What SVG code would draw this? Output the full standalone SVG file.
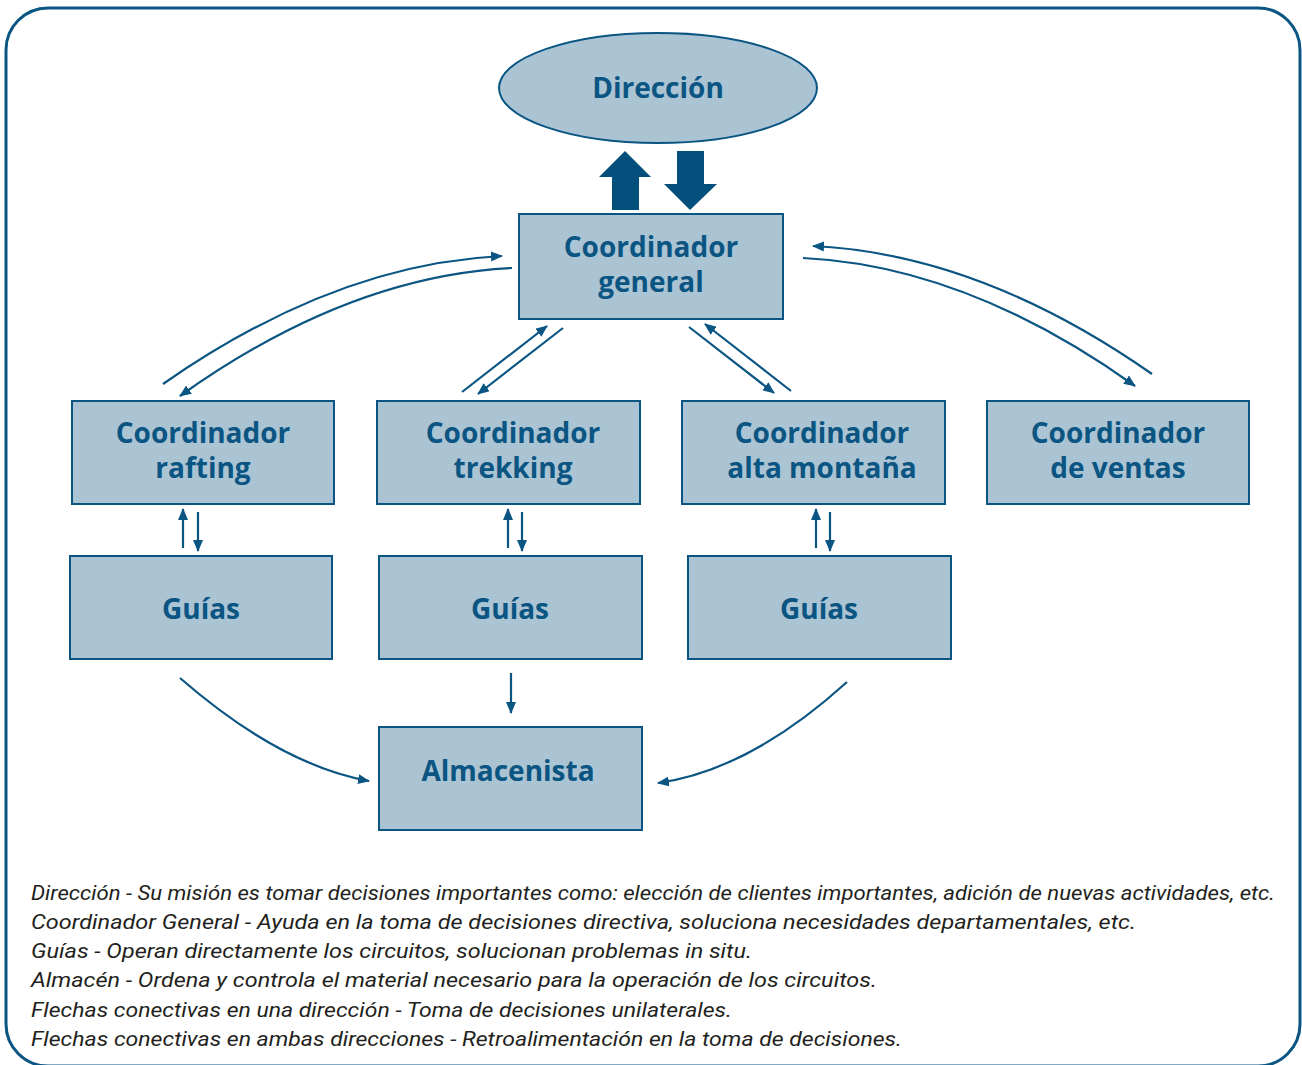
<svg xmlns="http://www.w3.org/2000/svg" width="1302" height="1065" viewBox="0 0 1302 1065">
<style>
.box{fill:#abc4d4;stroke:#0b5583;stroke-width:2}
.lbl{font-family:"Open Sans","Noto Sans",sans-serif;font-weight:bold;font-size:28px;fill:#0b5583;text-anchor:middle}
.con{fill:none;stroke:#0b5583;stroke-width:2.2}
.note{font-family:Roboto,"Liberation Sans",sans-serif;font-style:italic;font-size:21px;fill:#231f20}
</style>
<defs>
<marker id="ah" viewBox="0 0 12 10" refX="11" refY="5" markerWidth="12" markerHeight="10" markerUnits="userSpaceOnUse" orient="auto">
<path d="M0,0 L12,5 L0,10 Z" fill="#0b5583"/>
</marker>
</defs>
<rect x="6" y="8" width="1294" height="1058" rx="42" ry="42" fill="none" stroke="#0b5583" stroke-width="3"/>

<g id="direccion">
<ellipse cx="658" cy="88" rx="159" ry="55" class="box"/>
<text x="658" y="98" class="lbl">Dirección</text>
</g>
<g id="coord-general">
<rect x="519" y="214" width="264" height="105" class="box"/>
<text x="651" y="257" class="lbl">Coordinador</text>
<text x="651" y="292" class="lbl">general</text>
</g>
<g id="coord-rafting">
<rect x="72" y="401" width="262" height="103" class="box"/>
<text x="203" y="443" class="lbl">Coordinador</text>
<text x="203" y="478" class="lbl">rafting</text>
</g>
<g id="coord-trekking">
<rect x="377" y="401" width="263" height="103" class="box"/>
<text x="513" y="443" class="lbl">Coordinador</text>
<text x="513" y="478" class="lbl">trekking</text>
</g>
<g id="coord-alta">
<rect x="682" y="401" width="263" height="103" class="box"/>
<text x="822" y="443" class="lbl">Coordinador</text>
<text x="822" y="478" class="lbl">alta montaña</text>
</g>
<g id="coord-ventas">
<rect x="987" y="401" width="262" height="103" class="box"/>
<text x="1118" y="443" class="lbl">Coordinador</text>
<text x="1118" y="478" class="lbl">de ventas</text>
</g>
<g id="guias-1">
<rect x="70" y="556" width="262" height="103" class="box"/>
<text x="201" y="619" class="lbl">Guías</text>
</g>
<g id="guias-2">
<rect x="379" y="556" width="263" height="103" class="box"/>
<text x="510" y="619" class="lbl">Guías</text>
</g>
<g id="guias-3">
<rect x="688" y="556" width="263" height="103" class="box"/>
<text x="819" y="619" class="lbl">Guías</text>
</g>
<g id="almacenista">
<rect x="379" y="727" width="263" height="103" class="box"/>
<text x="508" y="781" class="lbl">Almacenista</text>
</g>

<g id="connectors">
<path d="M612,210 L612,177 L599,177 L625,151 L651,177 L639,177 L639,210 Z" fill="#04507c"/>
<path d="M677,151 L704,151 L704,184 L717,184 L690,210 L664,184 L677,184 Z" fill="#04507c"/>

<path d="M163,384 Q335,264 502,256" class="con" marker-end="url(#ah)"/>
<path d="M512,268 Q348,276 180,396" class="con" marker-end="url(#ah)"/>
<path d="M1152,374 Q980,254 813,246" class="con" marker-end="url(#ah)"/>
<path d="M803,258 Q967,266 1135,386" class="con" marker-end="url(#ah)"/>

<path d="M462,392 L547,326" class="con" marker-end="url(#ah)"/>
<path d="M563,328 L478,394" class="con" marker-end="url(#ah)"/>
<path d="M689,327 L774,393" class="con" marker-end="url(#ah)"/>
<path d="M791,391 L705,324" class="con" marker-end="url(#ah)"/>

<path d="M183,548 L183,509" class="con" marker-end="url(#ah)"/>
<path d="M198,512 L198,551" class="con" marker-end="url(#ah)"/>
<path d="M508,548 L508,509" class="con" marker-end="url(#ah)"/>
<path d="M522,512 L522,551" class="con" marker-end="url(#ah)"/>
<path d="M816,548 L816,509" class="con" marker-end="url(#ah)"/>
<path d="M830,512 L830,551" class="con" marker-end="url(#ah)"/>

<path d="M511,673 L511,713" class="con" marker-end="url(#ah)"/>
<path d="M180,678 Q280,765 369,781" class="con" marker-end="url(#ah)"/>
<path d="M847,682 Q750,770 658,783" class="con" marker-end="url(#ah)"/>
</g>

<g id="notes">
<text x="31" y="900" class="note" textLength="1244" lengthAdjust="spacingAndGlyphs">Dirección - Su misión es tomar decisiones importantes como: elección de clientes importantes, adición de nuevas actividades, etc.</text>
<text x="31" y="929" class="note" textLength="1105" lengthAdjust="spacingAndGlyphs">Coordinador General - Ayuda en la toma de decisiones directiva, soluciona necesidades departamentales, etc.</text>
<text x="31" y="958" class="note" textLength="721" lengthAdjust="spacingAndGlyphs">Guías - Operan directamente los circuitos, solucionan problemas in situ.</text>
<text x="31" y="987" class="note" textLength="846" lengthAdjust="spacingAndGlyphs">Almacén - Ordena y controla el material necesario para la operación de los circuitos.</text>
<text x="31" y="1017" class="note" textLength="701" lengthAdjust="spacingAndGlyphs">Flechas conectivas en una dirección - Toma de decisiones unilaterales.</text>
<text x="31" y="1046" class="note" textLength="871" lengthAdjust="spacingAndGlyphs">Flechas conectivas en ambas direcciones - Retroalimentación en la toma de decisiones.</text>
</g>
</svg>
